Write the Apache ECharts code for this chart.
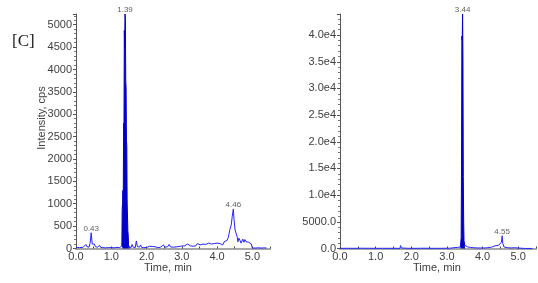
<!DOCTYPE html>
<html><head><meta charset="utf-8">
<script src="https://cdn.jsdelivr.net/npm/echarts@6/dist/echarts.min.js"></script>
<style>html,body{margin:0;padding:0;background:#fff}#c{width:538px;height:283px}</style>
</head><body><div id="c"></div>
<script>
// ---- Left chromatogram (baseline & minor peaks) ----
const leftTimes = [0.00,0.05,0.10,0.15,0.20,0.25,0.28,0.31,0.34,0.37,0.40,0.43,0.46,0.49,0.52,0.55,0.58,0.61,0.64,0.67,0.70,0.73,0.76,0.80,0.84,0.88,0.92,0.96,1.00,1.04,1.08,1.12,1.16,1.20,1.24,1.28,1.30,
 1.50,1.53,1.56,1.59,1.62,1.65,1.68,1.71,1.74,1.77,1.80,1.83,1.86,1.89,1.92,1.96,2.00,2.04,2.08,2.12,2.16,2.20,2.24,2.28,2.32,2.36,2.40,2.44,2.48,2.52,2.56,2.60,2.64,2.68,2.72,2.76,2.80,2.84,2.88,2.92,2.96,3.00,3.04,3.08,3.12,3.16,3.20,3.24,3.28,3.32,3.36,3.40,3.44,3.48,3.52,3.56,3.60,3.64,3.68,3.72,3.76,3.80,3.84,3.88,3.92,3.96,4.00,4.04,4.08,4.12,4.16,4.20,4.24,4.28,4.32,4.36,4.40,4.43,4.46,4.48,4.51,4.54,4.57,4.59,4.62,4.65,4.68,4.70,4.73,4.76,4.79,4.82,4.86,4.90,4.94,4.97,5.00,5.04,5.08,5.12,5.16,5.20,5.25,5.30,5.35,5.40];
const leftValues = [20,15,20,10,25,20,90,40,60,30,120,350,100,60,100,40,80,30,60,70,25,40,20,30,15,50,20,35,20,40,15,30,25,40,20,30,60,
 40,60,20,90,30,50,20,170,40,60,30,80,25,40,20,35,20,40,50,30,45,25,40,30,20,45,30,25,80,30,50,40,90,35,60,30,50,35,30,45,40,55,35,60,50,100,110,60,80,50,90,60,110,70,80,60,100,70,90,80,120,90,100,80,110,90,120,100,110,130,80,150,120,180,250,420,520,720,880,650,410,380,260,150,230,180,120,150,210,140,200,150,130,140,150,100,10,20,10,25,15,20,10,20,15,10];
// ---- Left main peak (filled) ----
const leftPeakTimes  = [1.30,1.31,1.32,1.33,1.34,1.35,1.36,1.37,1.38,1.39,1.40,1.41,1.42,1.43,1.44,1.45,1.46,1.47,1.48,1.49,1.50];
const leftPeakValues = [60,900,1000,1300,1100,2800,2700,4870,4500,5240,5090,3740,3600,2420,2300,1040,1000,400,300,80,40];
const leftLabelTimes  = [0.43,1.39,4.46];
const leftLabelValues = [350,5240,880];

// ---- Right chromatogram ----
const rightTimes = [0.00,0.20,0.40,0.60,0.80,1.00,1.20,1.40,1.60,1.68,1.70,1.72,1.75,1.77,1.90,2.10,2.30,2.50,2.70,2.90,3.10,3.15,3.20,3.25,3.30,3.35,3.38,
 3.50,3.52,3.55,3.58,3.62,3.66,3.70,3.75,3.80,3.85,3.90,3.95,4.00,4.05,4.10,4.15,4.20,4.25,4.30,4.35,4.40,4.45,4.50,4.53,4.55,4.57,4.60,4.65,4.70,4.80,4.90,5.00,5.05,5.20,5.40];
const rightValues = [30,40,30,50,40,30,40,30,40,0,550,100,300,50,40,30,50,40,30,40,60,60,150,100,200,150,300,
 600,400,700,300,500,200,300,150,250,100,200,100,150,100,200,150,200,250,300,500,400,600,500,1200,2380,900,300,200,150,100,150,80,20,10,10];
const rightPeakTimes  = [3.38,3.40,3.41,3.42,3.43,3.44,3.45,3.46,3.47,3.48,3.50];
const rightPeakValues = [300,2000,15600,39800,39000,43950,35650,13500,5000,1500,600];
const rightLabelTimes  = [3.44,4.55];
const rightLabelValues = [43950,2380];

const leftYTicks = [0,500,1000,1500,2000,2500,3000,3500,4000,4500,5000];
const rightYTickLabels = {0:'0.0',5000:'5000.0',10000:'1.0e4',15000:'1.5e4',20000:'2.0e4',25000:'2.5e4',30000:'3.0e4',35000:'3.5e4',40000:'4.0e4'};

const zip = (a,b)=>a.map((t,i)=>[t,b[i]]);
const FONT = 'Liberation Sans, Arial, sans-serif';
const lineBlue = '#2323ff', peakBlue = '#0000c8';

function xAxis(gridIndex){
  return {type:'value', gridIndex, min:0, max:5.5, interval:1,
    axisLine:{lineStyle:{color:'#a6a6a6', width:2}},
    axisTick:{show:true, inside:true, length:2, lineStyle:{color:'#444'}},
    minorTick:{show:true, splitNumber:2, length:2, lineStyle:{color:'#444'}},
    splitLine:{show:false},
    axisLabel:{color:'#404040', fontFamily:FONT, fontSize:11, margin:3, showMaxLabel:false,
      formatter:v=>v.toFixed(1)}};
}
function yAxis(gridIndex, max, interval, fmt){
  return {type:'value', gridIndex, min:0, max, interval,
    axisLine:{show:true, lineStyle:{color:'#555', width:1}},
    axisTick:{show:true, length:3, lineStyle:{color:'#555'}},
    minorTick:{show:true, splitNumber:5, length:2, lineStyle:{color:'#777'}},
    splitLine:{show:false},
    axisLabel:{color:'#404040', fontFamily:FONT, fontSize:11, margin:4, showMaxLabel:false, formatter:fmt}};
}
const labelSeries = (xi, yi, times, vals)=>({type:'scatter', xAxisIndex:xi, yAxisIndex:yi, symbolSize:0,
  data: zip(times, vals), silent:true,
  label:{show:true, position:'top', distance:0, color:'#333', fontFamily:FONT, fontSize:8,
    formatter:p=>p.value[0].toFixed(2)}});

const chart = echarts.init(document.getElementById('c'), null, {renderer:'canvas'});
chart.setOption({
  animation:false,
  grid:[{left:76, top:14, width:194, height:234.5},{left:340, top:14, width:196, height:234.5}],
  xAxis:[xAxis(0), xAxis(1)],
  yAxis:[yAxis(0, 5240, 500, v=>leftYTicks.includes(v)?String(v):''),
         yAxis(1, 43950, 5000, v=>rightYTickLabels[v]!==undefined?rightYTickLabels[v]:'')],
  graphic:[
    {type:'text', left:12, top:33, style:{text:'[C]', font:'17px "Liberation Serif", serif', fill:'#1a1a1a'}},
    {type:'text', x:42, y:118, rotation:Math.PI/2, style:{text:'Intensity, cps', font:'11px '+FONT, fill:'#404040', textAlign:'center', textVerticalAlign:'middle'}},
    {type:'text', x:168, y:268, style:{text:'Time, min', font:'11px '+FONT, fill:'#404040', textAlign:'center', textVerticalAlign:'middle'}},
    {type:'text', x:437, y:268, style:{text:'Time, min', font:'11px '+FONT, fill:'#404040', textAlign:'center', textVerticalAlign:'middle'}}
  ],
  series:[
    {type:'line', xAxisIndex:0, yAxisIndex:0, data:zip(leftTimes,leftValues), showSymbol:false, lineStyle:{color:lineBlue,width:1}, z:3},
    {type:'line', xAxisIndex:0, yAxisIndex:0, data:zip(leftPeakTimes,leftPeakValues), showSymbol:false, lineStyle:{color:peakBlue,width:1}, areaStyle:{color:peakBlue,opacity:1}, z:4},
    labelSeries(0,0,leftLabelTimes,leftLabelValues),
    {type:'line', xAxisIndex:1, yAxisIndex:1, data:zip(rightTimes,rightValues), showSymbol:false, lineStyle:{color:lineBlue,width:1}, z:3},
    {type:'line', xAxisIndex:1, yAxisIndex:1, data:zip(rightPeakTimes,rightPeakValues), showSymbol:false, lineStyle:{color:peakBlue,width:1}, areaStyle:{color:peakBlue,opacity:1}, z:4},
    labelSeries(1,1,rightLabelTimes,rightLabelValues)
  ]
});
</script></body></html>
